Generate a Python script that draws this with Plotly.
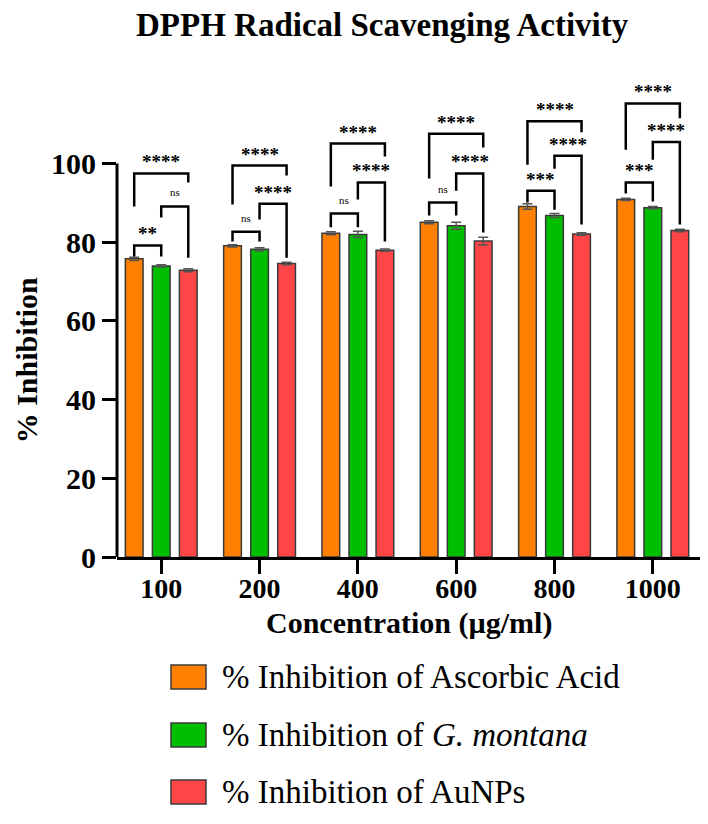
import plotly.graph_objects as go

# ---------------- data ----------------
concentrations = ["100", "200", "400", "600", "800", "1000"]
series_names = [
    "% Inhibition of Ascorbic Acid",
    "% Inhibition of <i>G. montana</i>",
    "% Inhibition of AuNPs",
]
ascorbic = [75.8, 79.1, 82.3, 85.1, 89.1, 90.9]
gmontana = [74.0, 78.2, 82.0, 84.2, 86.8, 88.8]
aunps = [72.9, 74.6, 78.0, 80.3, 82.1, 83.0]
ascorbic_sd = [0.4, 0.3, 0.4, 0.4, 0.7, 0.3]
gmontana_sd = [0.3, 0.4, 0.8, 0.9, 0.5, 0.3]
aunps_sd = [0.4, 0.3, 0.3, 1.0, 0.3, 0.3]

# significance labels (Ascorbic vs G.montana, G.montana vs AuNPs, Ascorbic vs AuNPs)
sig_ag = ["**", "ns", "ns", "ns", "***", "***"]
sig_gr = ["ns", "****", "****", "****", "****", "****"]
sig_ar = ["****", "****", "****", "****", "****", "****"]

# bracket levels (in % inhibition units): top, left-leg end, right-leg end
ag_top = [79.2, 82.7, 87.3, 90.1, 93.1, 95.2]
ag_left = [76.4, 80.2, 83.8, 86.8, 90.1, 92.4]
ag_right = [76.4, 80.2, 83.8, 86.8, 88.3, 90.4]
gr_top = [89.1, 89.8, 95.2, 97.5, 102.0, 105.5]
gr_left = [86.3, 85.8, 90.9, 93.1, 98.7, 101.0]
gr_right = [76.1, 76.1, 80.2, 82.5, 84.5, 84.5]
ar_top = [97.5, 99.5, 105.1, 107.6, 110.8, 115.3]
ar_left = [89.1, 89.6, 94.2, 96.2, 99.7, 103.5]
ar_right = [95.2, 97.0, 101.8, 104.1, 108.0, 111.5]

y_ticks = [0, 20, 40, 60, 80, 100]

# ---------------- style ----------------
colors = ["#FF8000", "#00BF00", "#FF4545"]
SERIF = "Liberation Serif"
W, H = 708, 824
ML, MR, MT, MB = 109, 16, 73, 275
BARGAP = 0.175
BARGROUPGAP = 0.345
XRANGE = [-0.45, 5.48]
YRANGE = [0, 121]

xpos = list(range(len(concentrations)))
slot = (1 - BARGAP) / 3.0
offsets = [-slot, 0.0, slot]

fig = go.Figure()
for vals, sds, name, col in zip(
    [ascorbic, gmontana, aunps],
    [ascorbic_sd, gmontana_sd, aunps_sd],
    series_names,
    colors,
):
    fig.add_trace(
        go.Bar(
            x=xpos,
            y=vals,
            name=name,
            marker=dict(color=col, line=dict(color="#3a3a3a", width=1.5)),
            error_y=dict(type="data", array=sds, visible=True,
                         color="#555555", thickness=1.5, width=5),
            showlegend=False,
        )
    )

# significance brackets
shapes = []
annotations = []
pairs = [
    (0, 1, ag_top, ag_left, ag_right, sig_ag),
    (1, 2, gr_top, gr_left, gr_right, sig_gr),
    (0, 2, ar_top, ar_left, ar_right, sig_ar),
]
for i, g in enumerate(xpos):
    for a, b, tops, lefts, rights, labels in pairs:
        x0 = g + offsets[a]
        x1 = g + offsets[b]
        path = (f"M {x0},{lefts[i]} L {x0},{tops[i]} "
                f"L {x1},{tops[i]} L {x1},{rights[i]}")
        shapes.append(dict(type="path", path=path, xref="x", yref="y",
                           line=dict(color="black", width=2.5)))
        lab = labels[i]
        if lab == "ns":
            annotations.append(dict(x=(x0 + x1) / 2, y=tops[i], xref="x", yref="y",
                                    text="ns", showarrow=False, yanchor="bottom",
                                    yshift=6,
                                    font=dict(family=SERIF, size=11, color="black")))
        else:
            annotations.append(dict(x=(x0 + x1) / 2, y=tops[i], xref="x", yref="y",
                                    text=lab, showarrow=False, yanchor="bottom",
                                    yshift=-1,
                                    font=dict(family=SERIF, size=19, color="black",
                                              weight="bold")))

# y axis line only up to 100
shapes.append(dict(type="line", xref="x domain", yref="y", x0=0, x1=0,
                   y0=0, y1=100, line=dict(color="black", width=3)))

# manual legend
plot_w = W - ML - MR
plot_h = H - MT - MB


def px_x(p):
    return (p - ML) / plot_w


def px_y(p):
    return (H - MB - p) / plot_h


legend_rows = [669, 727, 784]
for name, col, row in zip(series_names, colors, legend_rows):
    shapes.append(dict(type="rect", xref="paper", yref="paper",
                       x0=px_x(163), x1=px_x(198), y0=px_y(row + 12), y1=px_y(row - 12),
                       fillcolor=col, line=dict(color="#3a3a3a", width=1.5)))
    annotations.append(dict(x=px_x(212), y=px_y(row), xref="paper", yref="paper",
                            text=name, showarrow=False, xanchor="left", yanchor="middle",
                            font=dict(family=SERIF, size=33, color="black")))

# axis titles
annotations.append(dict(x=0.5, y=px_y(615), xref="paper", yref="paper",
                        text="Concentration (µg/ml)", showarrow=False,
                        xanchor="center", yanchor="middle",
                        font=dict(family=SERIF, size=30, color="black", weight="bold")))
annotations.append(dict(x=px_x(18), y=50, xref="paper", yref="y",
                        text="% Inhibition", showarrow=False, textangle=-90,
                        xanchor="center", yanchor="middle",
                        font=dict(family=SERIF, size=30, color="black", weight="bold")))

# title
annotations.append(dict(x=px_x(374), y=px_y(17), xref="paper", yref="paper",
                        text="DPPH Radical Scavenging Activity", showarrow=False,
                        xanchor="center", yanchor="middle",
                        font=dict(family=SERIF, size=33, color="black", weight="bold")))

fig.update_layout(
    width=W, height=H,
    margin=dict(l=ML, r=MR, t=MT, b=MB),
    paper_bgcolor="white", plot_bgcolor="white",
    barmode="group", bargap=BARGAP, bargroupgap=BARGROUPGAP,
    shapes=shapes,
    annotations=annotations,
    showlegend=False,
)
fig.update_xaxes(
    range=XRANGE, tickvals=xpos, ticktext=concentrations,
    showline=True, linecolor="black", linewidth=3,
    ticks="outside", ticklen=14, tickwidth=3, tickcolor="black",
    ticklabelstandoff=-10,
    showgrid=False, zeroline=False,
    tickfont=dict(family=SERIF, size=28, color="black", weight="bold"),
)
fig.update_yaxes(
    range=YRANGE, tickvals=y_ticks,
    showline=False,
    ticks="outside", ticklen=14, tickwidth=3, tickcolor="black",
    showgrid=False, zeroline=False,
    tickfont=dict(family=SERIF, size=30, color="black", weight="bold"),
)

fig.write_html("out.html")
